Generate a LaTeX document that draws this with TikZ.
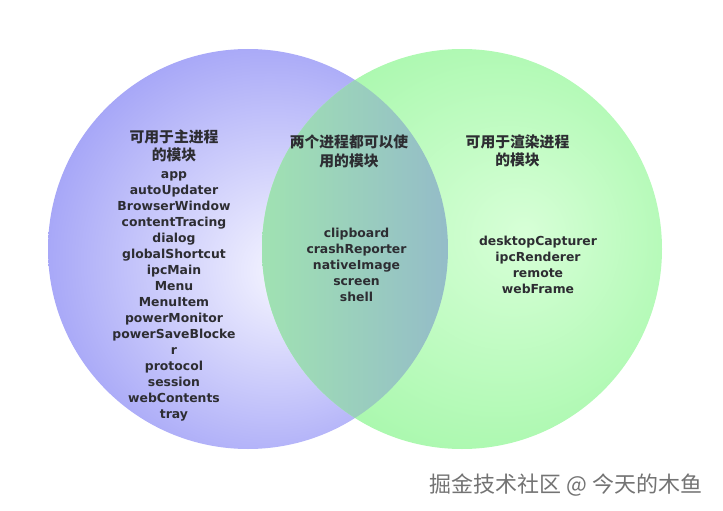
\documentclass[tikz,border=0pt]{standalone}
\usepackage{fontspec}
\setmainfont{DejaVu Sans}
\newfontfamily\cjk{Noto Sans CJK SC}

\definecolor{lilaborde}{RGB}{163,163,247}
\definecolor{lilacentro}{RGB}{246,246,255}
\definecolor{verdeborde}{RGB}{170,248,174}
\definecolor{verdecentro}{RGB}{215,255,215}
\definecolor{mezclaizq}{RGB}{160,226,178}
\definecolor{mezclamedio}{RGB}{128,200,168}
\definecolor{mezclader}{RGB}{148,188,200}
\definecolor{texto}{RGB}{45,45,50}

\pgfdeclareradialshading{lila}{\pgfpoint{5bp}{-3bp}}{color(0bp)=(lilacentro); color(29bp)=(lilaborde); color(50bp)=(lilaborde)}
\pgfdeclareradialshading{verde}{\pgfpoint{8bp}{2bp}}{color(0bp)=(verdecentro); color(28bp)=(verdeborde); color(50bp)=(verdeborde)}

\tikzset{
  modulo/.style={font=\bfseries\fontsize{12.4}{15}\selectfont, text=texto, anchor=base, inner sep=0pt},
  titulo/.style={font=\cjk\bfseries\fontsize{14.8}{18}\selectfont, text=texto, anchor=base, inner sep=0pt},
  marca/.style={font=\cjk\fontsize{22}{24}\selectfont, text=black!55, inner sep=0pt}
}

\begin{document}
\begin{tikzpicture}[x=1pt,y=-1pt]
            \useasboundingbox (0,0) rectangle (723,511);

            % Circulos
            \shade[shading=lila] (248,249) circle (200pt);
            \shade[shading=verde] (462,249) circle (200pt);

            % Interseccion
            \begin{scope}
              \clip (248,249) circle (200pt);
              \clip (462,249) circle (200pt);
              \shade[left color=mezclaizq, middle color=mezclamedio, right color=mezclader] (262,40) rectangle (448,460);
            \end{scope}

            % Titulos
            \node[titulo] (tizq1) at (174,142) {可用于主进程};
            \node[titulo] (tizq2) at (174,160) {的模块};
            \node[titulo] (tmed1) at (349,147) {两个进程都可以使};
            \node[titulo] (tmed2) at (349,166) {用的模块};
            \node[titulo] (tder1) at (517.5,147) {可用于渲染进程};
            \node[titulo] (tder2) at (517.5,165.5) {的模块};

            % Modulos
            \foreach \m [count=\i] in {app,autoUpdater,BrowserWindow,contentTracing,dialog,globalShortcut,ipcMain,Menu,MenuItem,powerMonitor,powerSaveBlocke,r,protocol,session,webContents,tray}
              \node[modulo] (izq\i) at (174,162+16*\i) {\m};
            \foreach \m [count=\i] in {clipboard,crashReporter,nativeImage,screen,shell}
              \node[modulo] (med\i) at (356.5,221+16*\i) {\m};
            \foreach \m [count=\i] in {desktopCapturer,ipcRenderer,remote,webFrame}
              \node[modulo] (der\i) at (538,229+16*\i) {\m};

            % Marca
            \node[marca] (marca) at (566,485) {掘金技术社区 @ 今天的木鱼};
\end{tikzpicture}
\end{document}
